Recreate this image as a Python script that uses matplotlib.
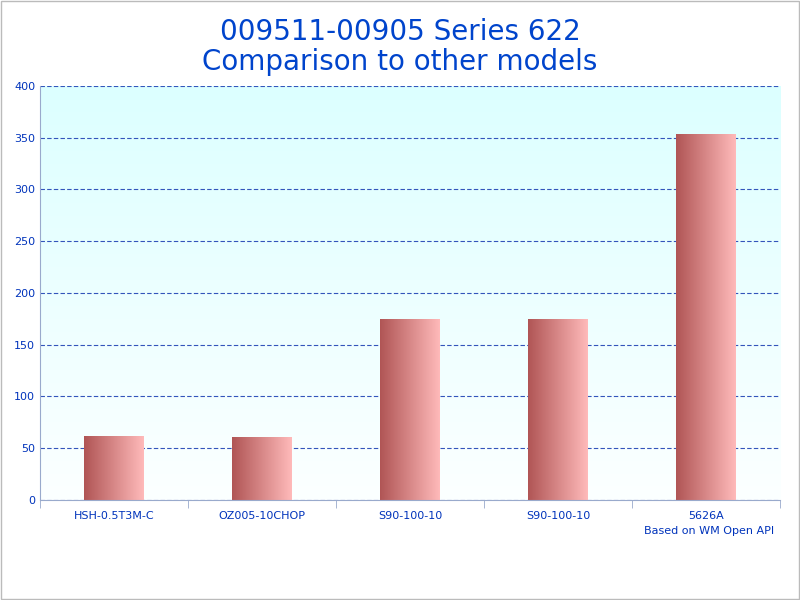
import matplotlib
matplotlib.use("Agg")
import matplotlib.pyplot as plt
import numpy as np
from matplotlib.colors import LinearSegmentedColormap

categories = ["HSH-0.5T3M-C", "OZ005-10CHOP", "S90-100-10", "S90-100-10", "5626A"]
values = [61, 60, 174, 174, 353]

fig = plt.figure(figsize=(8, 6), dpi=100)
fig.patch.set_facecolor("white")
ax = fig.add_axes([0.05, 0.1667, 0.925, 0.69])
blue = "#0033bb"

# background gradient
bg = LinearSegmentedColormap.from_list("bg", ["#fcffff", "#dcffff"])
ax.imshow(np.linspace(0, 1, 256).reshape(-1, 1), cmap=bg, origin="lower",
          extent=[0, 1, 0, 1], transform=ax.transAxes, aspect="auto", zorder=0)

ax.set_xlim(-0.5, len(categories) - 0.5)
ax.set_ylim(0, 400)
ax.set_yticks(range(0, 401, 50))
ax.yaxis.grid(True, color="#3355bb", linestyle=(0, (4, 2)), linewidth=0.8, zorder=1)

barcm = LinearSegmentedColormap.from_list("bar", ["#b05555", "#ffbaba"])
grad = np.linspace(0, 1, 256).reshape(1, -1)
w = 0.4
for i, v in enumerate(values):
    ax.imshow(grad, cmap=barcm, extent=[i - w / 2, i + w / 2, 0, v],
              aspect="auto", zorder=2)
ax.set_xlim(-0.5, len(categories) - 0.5)
ax.set_ylim(0, 400)

ax.set_xticks(range(len(categories)))
ax.set_xticklabels(categories)
ax.set_xticks(np.arange(-0.5, len(categories)), minor=True)
ax.tick_params(axis="x", which="major", length=0, labelsize=8, labelcolor=blue, pad=8)
ax.tick_params(axis="x", which="minor", length=6, color="#99aacc")
ax.tick_params(axis="y", labelsize=8, labelcolor=blue, length=0)
for s in ["top", "right"]:
    ax.spines[s].set_visible(False)
ax.spines["left"].set_color("#99aacc")
ax.spines["bottom"].set_color("#99aacc")

fig.text(0.5, 0.97, "009511-00905 Series 622\nComparison to other models",
         ha="center", va="top", fontsize=20, color="#0044cc", linespacing=1.1)
fig.text(0.968, 0.115, "Based on WM Open API", ha="right", va="center",
         fontsize=8, color=blue)
fig.add_artist(plt.Rectangle((0.001, 0.001), 0.998, 0.998, transform=fig.transFigure,
                             fill=False, edgecolor="#bbbbbb", linewidth=1))
fig.savefig("out.png", dpi=100)
